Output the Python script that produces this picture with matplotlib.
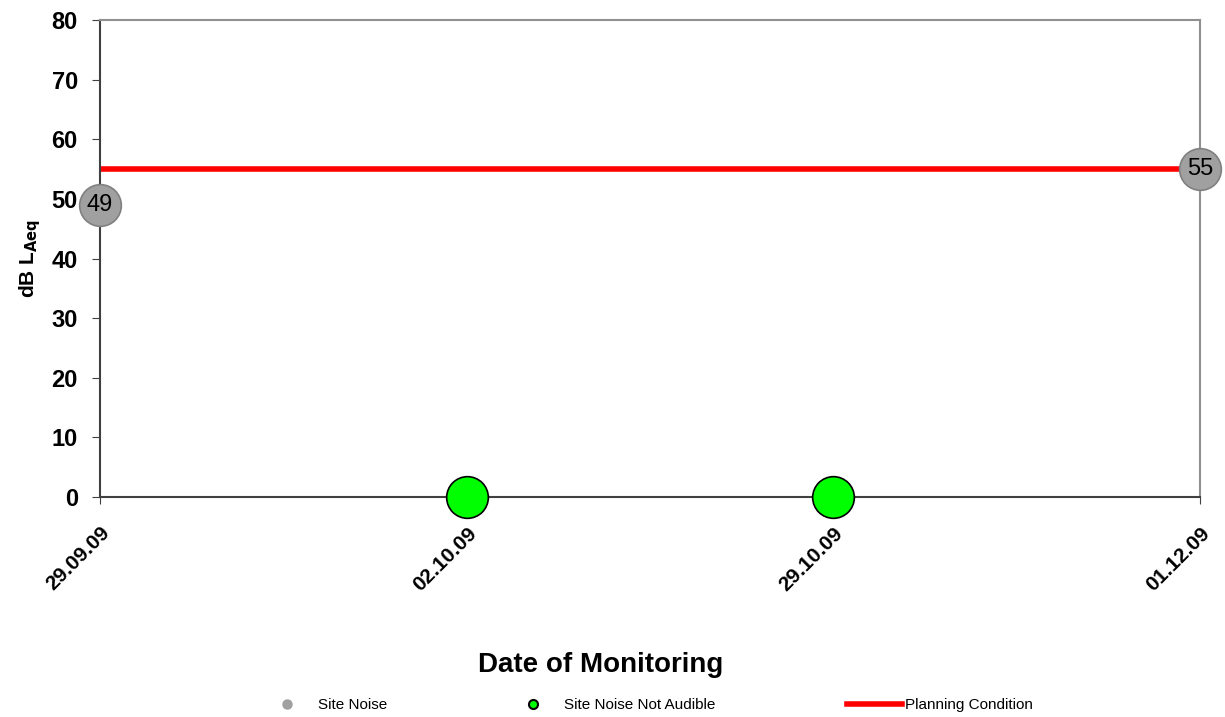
import numpy as np
import matplotlib
matplotlib.use("Agg")
import matplotlib.pyplot as plt
from matplotlib.lines import Line2D
from matplotlib.transforms import ScaledTranslation

plt.rcParams['font.family'] = ['Liberation Sans', 'DejaVu Sans']

dates = ["29.09.09", "02.10.09", "29.10.09", "01.12.09"]
site_noise = [49, None, None, 55]
not_audible = [None, 0, 0, None]
planning = [55, 55, 55, 55]

x = np.arange(len(dates))

fig = plt.figure(figsize=(12.25, 7.17), dpi=100)
ax = fig.add_axes([100/1225, 1 - 497/717, 1100/1225, 477/717])

ax.plot(x, planning, color="#ff0000", lw=4, solid_capstyle="butt", zorder=2)

sx = [i for i, v in zip(x, site_noise) if v is not None]
sy = [v for v in site_noise if v is not None]
ax.plot(sx, sy, ls="none", marker="o", ms=30, mfc="#a0a0a0", mec="#808080",
        mew=1.2, clip_on=False, zorder=4)
for xi, yi in zip(sx, sy):
    ax.text(xi, yi, str(yi), ha="center", va="center", fontsize=17, zorder=5)

nx = [i for i, v in zip(x, not_audible) if v is not None]
ny = [v for v in not_audible if v is not None]
ax.plot(nx, ny, ls="none", marker="o", ms=30, mfc="#00ff00", mec="black",
        mew=1.2, clip_on=False, zorder=4)

ax.set_xlim(0, 3)
ax.set_ylim(0, 80)
ax.set_yticks(range(0, 81, 10))
ax.set_xticks(x)
ax.set_xticklabels(dates, rotation=45, ha="right", rotation_mode="anchor",
                   fontsize=15, fontweight="bold")
offset = ScaledTranslation(3/100, 0, fig.dpi_scale_trans)
for lab in ax.get_xticklabels():
    lab.set_transform(lab.get_transform() + offset)
for lab in ax.get_yticklabels():
    lab.set_fontweight("bold")
    lab.set_fontsize(17)
ax.tick_params(axis="y", direction="out", length=6, color="#404040", pad=10)
ax.tick_params(axis="x", direction="out", length=5, color="#404040", pad=14)

for s in ["left", "bottom"]:
    ax.spines[s].set_color("#404040")
    ax.spines[s].set_linewidth(1.5)
for s in ["top", "right"]:
    ax.spines[s].set_color("#909090")
    ax.spines[s].set_linewidth(1.5)

ax.set_ylabel(r"dB L$_{\mathbf{Aeq}}$", fontsize=15, fontweight="bold")
ax.yaxis.set_label_coords(-0.052, 0.5)
ax.set_xlabel("Date of Monitoring", fontsize=20, fontweight="bold")
ax.xaxis.set_label_coords(0.455, -0.325)

# legend: three separate entries so spacing matches
leg_specs = [
    (Line2D([], [], ls="none", marker="o", ms=6.5, mfc="#a0a0a0", mec="#a0a0a0"),
     "Site Noise", 272/1225, 2.0, 1.03),
    (Line2D([], [], ls="none", marker="o", ms=6.5, mfc="#00ff00", mec="black", mew=1.5),
     "Site Noise Not Audible", 518/1225, 2.0, 1.03),
    (Line2D([], [], color="#ff0000", lw=4),
     "Planning Condition", 847/1225, 3.6, 0.2),
]
for h, lbl, xa, hl, tp in leg_specs:
    lg = fig.legend([h], [lbl], loc="center left", bbox_to_anchor=(xa, 0.0167),
                    frameon=False, fontsize=11, borderpad=0, borderaxespad=0,
                    handlelength=hl, handletextpad=tp)

fig.savefig("out.png", dpi=100)
